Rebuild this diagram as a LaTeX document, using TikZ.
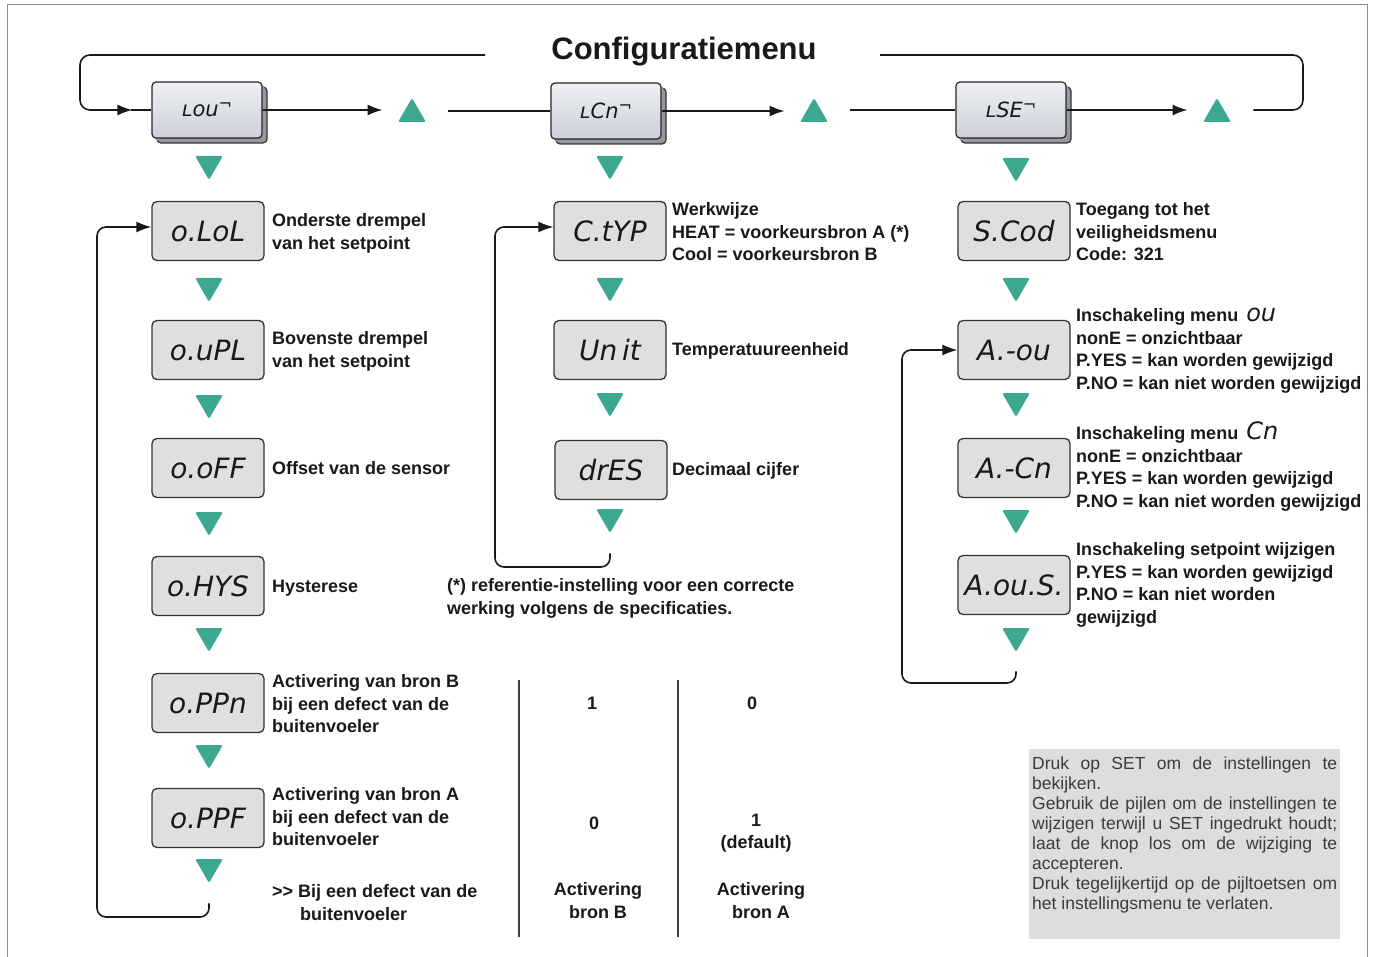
\documentclass[tikz,border=0pt]{standalone}
\usepackage{fontspec}
\setmainfont{Liberation Sans}
\newfontfamily\segfont{DejaVu Sans}
\usetikzlibrary{arrows.meta,shapes.geometric}

\definecolor{ink}{RGB}{25,25,25}
\definecolor{keygreen}{RGB}{60,168,144}
\definecolor{dispfill}{RGB}{222,223,224}
\definecolor{facetop}{RGB}{238,240,244}
\definecolor{facebot}{RGB}{204,208,215}
\definecolor{sidegray}{RGB}{150,152,156}
\definecolor{notefill}{RGB}{221,221,222}
\definecolor{notetext}{RGB}{60,60,60}
\definecolor{framegray}{RGB}{140,140,140}

\tikzset{
  conn/.style={draw=ink, line width=1.6pt},
  tip/.style={-{Latex[length=15pt,width=11pt]}},
  segtext/.style={font=\segfont\itshape\fontsize{28}{28}\selectfont, text=ink},
  disp/.style={segtext, draw=black!80, line width=1.3pt, fill=dispfill,
    rounded corners=5pt, minimum width=112pt, minimum height=59pt, inner sep=0pt},
  topdisp/.style={draw=black!85, line width=1.2pt, top color=facetop, bottom color=facebot,
    rounded corners=4pt, minimum width=110pt, minimum height=56pt, inner sep=0pt,
    font=\segfont\itshape\fontsize{21}{21}\selectfont, text=ink,
    preaction={fill=sidegray, draw=black!80, line width=1.2pt,
      transform canvas={xshift=5pt,yshift=-5pt}},
    preaction={fill=sidegray,
      transform canvas={xshift=2.5pt,yshift=-2.5pt}}},
  dnkey/.style={regular polygon, regular polygon sides=3, shape border rotate=180,
    fill=keygreen, minimum size=32pt, inner sep=0pt, rounded corners=1.5pt},
  upkey/.style={regular polygon, regular polygon sides=3,
    fill=keygreen, minimum size=32pt, inner sep=0pt, rounded corners=1.5pt},
  lbl/.style={anchor=north west, inner sep=0pt, align=left, text=ink,
    font=\bfseries\fontsize{18}{22.5}\selectfont},
  cell/.style={inner sep=0pt, align=center, text=ink,
    font=\bfseries\fontsize{18}{22.5}\selectfont},
}

\newcommand\keymark[1]{ʟ#1\raisebox{7pt}{\fontsize{16}{16}\selectfont ¬}}
\newcommand\segin[1]{\hspace{8pt}\smash{\segfont\mdseries\itshape\fontsize{24}{24}\selectfont #1}}

\begin{document}
\begin{tikzpicture}[x=1pt,y=-1pt]
\useasboundingbox (0,0) rectangle (1373,957);

% outer frame
\draw[framegray, line width=1pt] (7,957) -- (7,5) -- (1367,5) -- (1367,957);

% title
\node[inner sep=0pt, text=ink, font=\bfseries\fontsize{31}{31}\selectfont] (title) at (684,52) {Configuratiemenu};
\coordinate (gapL) at (485,55);
\coordinate (gapR) at (880,55);

% top row: menu keys
\node[topdisp] (mOu) at (207,110) {\keymark{ou}};
\node[topdisp] (mCn) at (606,111) {\keymark{Cn}};
\node[topdisp] (mSE) at (1011,110) {\keymark{SE}};

\node[upkey] (u1) at (412,114) {};
\node[upkey] (u2) at (814,114) {};
\node[upkey] (u3) at (1217,114) {};

\draw[conn,tip,shorten >=20pt] (mOu.east) -- (mOu.east -| u1.west);
\draw[conn,shorten <=27pt] (u1.east |- mCn.west) -- (mCn.west);
\draw[conn,tip,shorten >=20pt] (mCn.east) -- (mCn.east -| u2.west);
\draw[conn,shorten <=27pt] (u2.east |- mSE.west) -- (mSE.west);
\draw[conn,tip,shorten >=20pt] (mSE.east) -- (mSE.east -| u3.west);

% return loop over the top
\draw[conn,rounded corners=10pt,shorten <=27pt] (u3.east |- mSE.east) -- (1303,110) -- (1303,55) -- (gapR);
\draw[conn,tip,rounded corners=10pt] (gapL) -- (80,55) -- (80,110) -- ([xshift=-19pt]mOu.west);
\draw[conn] ([xshift=-20pt]mOu.west) -- (mOu.west);

% left column
\node[dnkey] (dL0) at (209,164) {};
\node[disp] (oLoL) at (208,231) {o.LoL};
\node[dnkey] (dL1) at (209,286) {};
\node[disp] (oUPL) at (208,350) {o.uPL};
\node[dnkey] (dL2) at (209,403) {};
\node[disp] (oOFF) at (208,468) {o.oFF};
\node[dnkey] (dL3) at (209,520) {};
\node[disp] (oHYS) at (208,586) {o.HYS};
\node[dnkey] (dL4) at (209,636) {};
\node[disp] (oPPn) at (208,703) {o.PPn};
\node[dnkey] (dL5) at (209,753) {};
\node[disp] (oPPF) at (208,818) {o.PPF};
\node[dnkey] (dL6) at (209,867) {};

\draw[conn,tip,rounded corners=9pt] (dL6.south) ++(0,20) |- (97,917) |- ([yshift=4pt]oLoL.west);

\node[lbl] (tLoL) at (272,213.5) {Onderste drempel\\van het setpoint};
\node[lbl] (tUPL) at (272,331.5) {Bovenste drempel\\van het setpoint};
\node[lbl] (tOFF) at (272,461.5) {Offset van de sensor};
\node[lbl] (tHYS) at (272,579.5) {Hysterese};
\node[lbl] (tPPn) at (272,674.5) {Activering van bron B\\bij een defect van de\\buitenvoeler};
\node[lbl] (tPPF) at (272,787.5) {Activering van bron A\\bij een defect van de\\buitenvoeler};
\node[lbl] (tDef) at (272,884.5) {>{}> Bij een defect van de\\\hspace*{28pt}buitenvoeler};

% middle column
\node[dnkey] (dM0) at (610,164) {};
\node[disp] (cTYP) at (610,231) {C.tYP};
\node[dnkey] (dM1) at (610,286) {};
\node[disp] (uNIT) at (610,350) {Un\,it};
\node[dnkey] (dM2) at (610,401) {};
\node[disp] (dRES) at (611,470) {drES};
\node[dnkey] (dM3) at (610,517) {};

\draw[conn,tip,rounded corners=9pt] (dM3.south) ++(0,20) |- (495,567) |- ([yshift=4pt]cTYP.west);

\node[lbl] (tTYP) at (672,202.5) {Werkwijze\\HEAT = voorkeursbron A (*)\\Cool = voorkeursbron B};
\node[lbl] (tNIT) at (672,342.5) {Temperatuureenheid};
\node[lbl] (tRES) at (672,462.5) {Decimaal cijfer};
\node[lbl] (tRef) at (447,578.5) {(*) referentie-instelling voor een correcte\\werking volgens de specificaties.};

% right column
\node[dnkey] (dR0) at (1016,166) {};
\node[disp] (sCOD) at (1014,231) {S.Cod};
\node[dnkey] (dR1) at (1016,286) {};
\node[disp] (aOU) at (1014,350) {A.-ou};
\node[dnkey] (dR2) at (1016,401) {};
\node[disp] (aCN) at (1014,468) {A.-Cn};
\node[dnkey] (dR3) at (1016,518) {};
\node[disp] (aOUS) at (1014,585) {A.ou.S.};
\node[dnkey] (dR4) at (1016,636) {};

\draw[conn,tip,rounded corners=9pt] (dR4.south) ++(0,19) |- (902,683) |- (aOU.west);

\node[lbl] (tCOD) at (1076,202.5) {Toegang tot het\\veiligheidsmenu\\Code: 321};
\node[lbl] (tAOU) at (1076,308.5) {Inschakeling menu\segin{ou}\\nonE = onzichtbaar\\P.YES = kan worden gewijzigd\\P.NO = kan niet worden gewijzigd};
\node[lbl] (tACN) at (1076,426.5) {Inschakeling menu\segin{Cn}\\nonE = onzichtbaar\\P.YES = kan worden gewijzigd\\P.NO = kan niet worden gewijzigd};
\node[lbl] (tOUS) at (1076,542.5) {Inschakeling setpoint wijzigen\\P.YES = kan worden gewijzigd\\P.NO = kan niet worden\\gewijzigd};

% sensor fault table
\draw[draw=black!75, line width=1.5pt] (519,680) -- (519,937);
\draw[draw=black!75, line width=1.5pt] (678,680) -- (678,937);
\node[cell] (b1) at (592,703) {1};
\node[cell] (a0) at (752,703) {0};
\node[cell] (b0) at (594,823) {0};
\node[cell, anchor=north] (a1) at (756,813.5) {1\\(default)};
\node[cell, anchor=north] (hB) at (598,882.5) {Activering\\bron B};
\node[cell, anchor=north] (hA) at (761,882.5) {Activering\\bron A};

% instructions box
\node[anchor=north west, fill=notefill, minimum width=311pt, minimum height=190pt, inner sep=0pt] (note) at (1029,749) {};
\node[anchor=north west, inner sep=0pt, align=left, text=notetext,
      font=\fontsize{17.5}{20}\selectfont] (noteText) at ([xshift=3pt,yshift=-8pt]note.north west) {%
\makebox[305pt][s]{Druk op SET om de instellingen te}\\
bekijken.\\
\makebox[305pt][s]{Gebruik de pijlen om de instellingen te}\\
\makebox[305pt][s]{wijzigen terwijl u SET ingedrukt houdt;}\\
\makebox[305pt][s]{laat de knop los om de wijziging te}\\
accepteren.\\
\makebox[305pt][s]{Druk tegelijkertijd op de pijltoetsen om}\\
het instellingsmenu te verlaten.};
\end{tikzpicture}
\end{document}
